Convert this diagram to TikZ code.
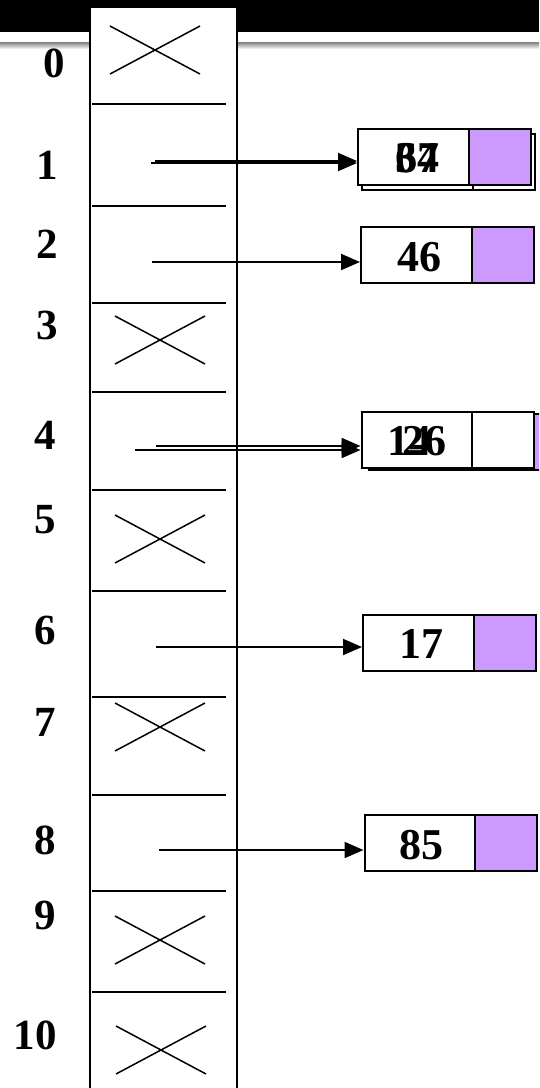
\documentclass[tikz,border=0pt]{standalone}
\usepackage{fontspec}
\setmainfont{Liberation Serif}
\usetikzlibrary{arrows.meta}
\definecolor{cellpurple}{HTML}{CC99FF}
\begin{document}
\begin{tikzpicture}[x=1pt,y=-1pt,
  lbl/.style={font=\fontsize{43}{43}\selectfont\bfseries, inner sep=0pt},
  num/.style={font=\fontsize{44}{44}\selectfont\bfseries, inner sep=0pt},
  cellL/.style={draw, line width=2pt, fill=white, minimum width=111pt, minimum height=56pt, inner sep=0pt},
  cellR/.style={draw, line width=2pt, fill=cellpurple, minimum width=62pt, minimum height=56pt, inner sep=0pt},
  cellRw/.style={cellR, fill=white},
  divider/.style={line width=1.8pt},
  cross/.style={line width=1.5pt},
  link/.style={line width=2pt, -{Triangle[length=19pt,width=16pt]}}
]
\useasboundingbox (0,0) rectangle (539,1088);
\clip (0,0) rectangle (539,1088);
% slide header
\fill[black] (0,0) rectangle (539,32);
\shade[top color=black!50, bottom color=white] (0,42) rectangle (539,49);
% column
\node[draw, line width=2.4pt, fill=white, minimum width=147pt, minimum height=1094pt, inner sep=0pt, anchor=north west] (col) at (89,6) {};
% dividers
\foreach \yy in {104,206,303,392,490,591,697,795,891,992}
  \draw[divider] (92,\yy) -- (226,\yy);
% crosses
\foreach \cx/\cy in {155/50,160/340,160/539,160/727,160/940,161/1050}
  \draw[cross] (\cx-45,\cy-24) -- (\cx+45,\cy+24) (\cx-45,\cy+24) -- (\cx+45,\cy-24);
% index labels
\node[lbl] (l0) at (54,63) {0};
\node[lbl] (l1) at (47,165) {1};
\node[lbl] (l2) at (47,244) {2};
\node[lbl] (l3) at (47,325) {3};
\node[lbl] (l4) at (45,435) {4};
\node[lbl] (l5) at (45,520) {5};
\node[lbl] (l6) at (45,630) {6};
\node[lbl] (l7) at (45,722) {7};
\node[lbl] (l8) at (45,840) {8};
\node[lbl] (l9) at (45,915) {9};
\node[lbl] (l10) at (35,1035) {10};
% row 1 boxes
\node[cellL] (b1bL) at (417.5,162) {};
\node[cellRw] (b1bR) at (504,162) {};
\node[cellL] (b1L) at (413.5,157) {};
\node[cellR] (b1R) at (500,157) {};
\node[num] (t1a) at (417,158) {67};
\node[num] (t1b) at (417,158) {34};
% row 2
\node[cellL] (b2L) at (416.5,255) {};
\node[cellR] (b2R) at (503,255) {};
\node[num] (t2) at (419,257) {46};
% row 4
\node[cellL] (b4bL) at (424.5,442) {};
\node[cellR] (b4bR) at (510.5,442) {};
\node[cellL] (b4L) at (417,439.5) {};
\node[cellRw] (b4R) at (503,439.5) {};
\node[num] (t4a) at (409,441) {14};
\node[num] (t4b) at (424,441) {26};
% row 6
\node[cellL] (b6L) at (418.5,642.5) {};
\node[cellR] (b6R) at (504.5,642.5) {};
\node[num] (t6) at (421,644) {17};
% row 8
\node[cellL] (b8L) at (420,843) {};
\node[cellR] (b8R) at (506,843) {};
\node[num] (t8) at (421,845) {85};
% arrow starts
\coordinate (s1a) at (151,163);
\coordinate (s1b) at (155,161);
\coordinate (s2) at (152,262);
\coordinate (s4a) at (135,450);
\coordinate (s4b) at (156,446);
\coordinate (s6) at (156,647);
\coordinate (s8) at (159,850);
\draw[link] (s1a) -- (s1a -| b1L.west);
\draw[link] (s1b) -- (s1b -| b1L.west);
\draw[link] (s2) -- (s2 -| b2L.west);
\draw[link] (s4a) -- (s4a -| b4L.west);
\draw[link] (s4b) -- (s4b -| b4L.west);
\draw[link] (s6) -- (s6 -| b6L.west);
\draw[link] (s8) -- (s8 -| b8L.west);
\end{tikzpicture}
\end{document}
